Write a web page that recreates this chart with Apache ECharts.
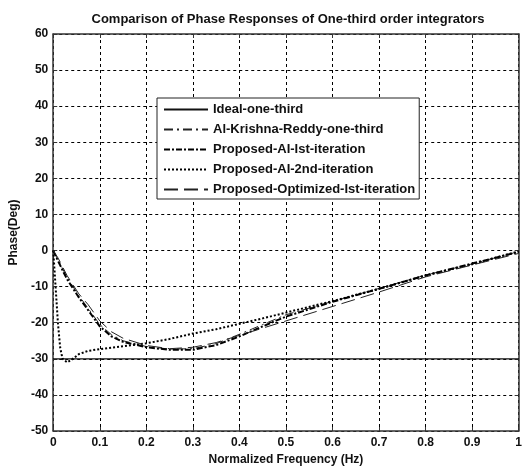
<!DOCTYPE html>
<html>
<head>
<meta charset="utf-8">
<script src="https://cdn.jsdelivr.net/npm/echarts@6/dist/echarts.min.js"></script>
<style>
  html, body { margin: 0; padding: 0; background: #fff; }
  #chart { width: 525px; height: 471px; }
</style>
</head>
<body>
<div id="chart"></div>
<script>
// Normalized frequency samples (shared by all series)
const freq = [0, 0.005, 0.01, 0.015, 0.02, 0.03, 0.04, 0.055, 0.075, 0.1, 0.125, 0.15,
  0.2, 0.25, 0.3, 0.35, 0.4, 0.45, 0.5, 0.6, 0.7, 0.8, 0.9, 1]

// Phase in degrees
const idealPhase = [-30, -30, -30, -30, -30, -30, -30, -30, -30, -30, -30, -30,
  -30, -30, -30, -30, -30, -30, -30, -30, -30, -30, -30, -30]
const akrPhase = [0, -1.3, -2.5, -3.8, -5, -7.5, -9.5, -12.5, -16, -20.5, -23.3, -25,
  -26.6, -27.3, -27.2, -25.8, -23.2, -20.5, -17.8, -14.1, -10.5, -6.8, -3.7, -0.3]
const ai1Phase = [0, -1.4, -2.8, -4.1, -5.5, -8, -10, -13, -16.5, -21, -23.8, -25.3,
  -26.8, -27.5, -27.5, -26.2, -23.8, -21, -18.3, -14.2, -10.6, -6.9, -3.6, -0.4]
const ai2Phase = [0, -10, -20, -27, -30, -31, -30.2, -28.7, -27.8, -27.3, -26.9, -26.5,
  -25.7, -24.5, -23, -21.8, -20.3, -18.8, -17.2, -14, -10.6, -6.9, -3.8, -0.2]
const optPhase = [0, -1, -2, -3.2, -4.5, -7, -9, -12, -15, -19.5, -22.5, -24.3,
  -26.3, -27.2, -26.8, -25.5, -23.5, -21.5, -19.5, -15.5, -11.5, -7.3, -4, -0.8]

const xTicks = [0, 0.1, 0.2, 0.3, 0.4, 0.5, 0.6, 0.7, 0.8, 0.9, 1]
const yTicks = [-50, -40, -30, -20, -10, 0, 10, 20, 30, 40, 50, 60]

const FONT = 'Liberation Sans, Arial, sans-serif'
const AXIS_COLOR = '#333'
const TEXT_COLOR = '#111'

const pairs = (ys) => freq.map((f, i) => [f, ys[i]])

const chart = echarts.init(document.getElementById('chart'))

const gridDash = { color: '#000', width: 1, type: [3, 3] }
const boxLine = { show: true, onZero: false, lineStyle: { color: AXIS_COLOR, width: 1.5 } }
const inTick = { show: true, inside: true, length: 4, lineStyle: { color: AXIS_COLOR } }

chart.setOption({
  animation: false,
  backgroundColor: '#fff',
  title: {
    text: 'Comparison of Phase Responses of One-third order integrators',
    left: 283,
    textAlign: 'center',
    top: 8,
    textStyle: { fontFamily: FONT, fontSize: 13, fontWeight: 'bold', color: TEXT_COLOR },
  },
  grid: { left: 47, right: 3, top: 34, bottom: 39, show: false },
  legend: {
    orient: 'vertical',
    left: 157,
    top: 98,
    width: 266,
    padding: [5, 4, 3, 6],
    itemGap: 7,
    itemWidth: 44,
    itemHeight: 14,
    backgroundColor: '#fff',
    borderColor: '#222',
    borderWidth: 1,
    borderRadius: 0,
    itemStyle: { opacity: 0 },
    textStyle: { fontFamily: FONT, fontSize: 13, fontWeight: 'bold', color: TEXT_COLOR, width: 208 },
    data: ['Ideal-one-third', 'Al-Krishna-Reddy-one-third', 'Proposed-AI-Ist-iteration',
      'Proposed-AI-2nd-iteration', 'Proposed-Optimized-Ist-iteration'],
  },
  xAxis: [
    {
      type: 'value',
      min: 0,
      max: 1,
      interval: 0.1,
      name: 'Normalized Frequency (Hz)',
      nameLocation: 'middle',
      nameGap: 23,
      nameTextStyle: { fontFamily: FONT, fontSize: 12, fontWeight: 'bold', color: TEXT_COLOR },
      axisLine: boxLine,
      axisTick: inTick,
      axisLabel: {
        fontFamily: FONT, fontSize: 12, fontWeight: 'bold', color: TEXT_COLOR, margin: 6,
        formatter: (v) => (xTicks.includes(Math.round(v * 10) / 10) ? String(Math.round(v * 10) / 10) : ''),
      },
      splitLine: { show: true, lineStyle: gridDash },
    },
    {
      type: 'value',
      position: 'top',
      min: 0,
      max: 1,
      interval: 0.1,
      axisLine: boxLine,
      axisTick: inTick,
      axisLabel: { show: false },
      splitLine: { show: false },
    },
  ],
  yAxis: [
    {
      type: 'value',
      min: -50,
      max: 60,
      interval: 10,
      name: 'Phase(Deg)',
      nameLocation: 'middle',
      nameGap: 30,
      nameTextStyle: { fontFamily: FONT, fontSize: 12, fontWeight: 'bold', color: TEXT_COLOR },
      axisLine: boxLine,
      axisTick: inTick,
      axisLabel: {
        fontFamily: FONT, fontSize: 12, fontWeight: 'bold', color: TEXT_COLOR, margin: 5,
        formatter: (v) => (yTicks.includes(v) ? String(v) : ''),
      },
      splitLine: { show: true, lineStyle: gridDash },
    },
    {
      type: 'value',
      position: 'right',
      min: -50,
      max: 60,
      interval: 10,
      axisLine: boxLine,
      axisTick: inTick,
      axisLabel: { show: false },
      splitLine: { show: false },
    },
  ],
  series: [
    {
      name: 'Ideal-one-third',
      type: 'line',
      symbol: 'none',
      itemStyle: { color: '#000' },
      lineStyle: { color: '#111', width: 1.2, type: 'solid' },
      data: pairs(idealPhase),
      z: 3,
    },
    {
      name: 'Al-Krishna-Reddy-one-third',
      type: 'line',
      symbol: 'none',
      itemStyle: { color: '#000' },
      lineStyle: { color: '#222', width: 1, type: [9, 4, 2, 4] },
      data: pairs(akrPhase),
      z: 3,
    },
    {
      name: 'Proposed-AI-Ist-iteration',
      type: 'line',
      symbol: 'none',
      itemStyle: { color: '#000' },
      lineStyle: { color: '#000', width: 2, type: [6, 2, 2, 2] },
      data: pairs(ai1Phase),
      z: 3,
    },
    {
      name: 'Proposed-AI-2nd-iteration',
      type: 'line',
      symbol: 'none',
      itemStyle: { color: '#000' },
      lineStyle: { color: '#000', width: 2, type: [2, 2] },
      data: pairs(ai2Phase),
      z: 3,
    },
    {
      name: 'Proposed-Optimized-Ist-iteration',
      type: 'line',
      symbol: 'none',
      itemStyle: { color: '#000' },
      lineStyle: { color: '#222', width: 1, type: [14, 6] },
      data: pairs(optPhase),
      z: 3,
    },
  ],
})
</script>
</body>
</html>
